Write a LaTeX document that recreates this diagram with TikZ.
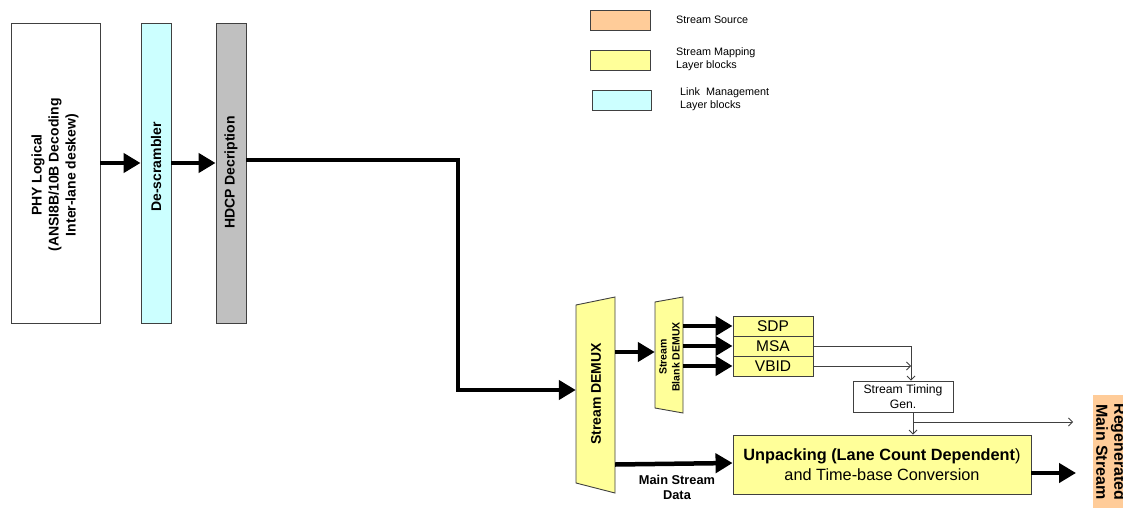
\documentclass[tikz,border=0pt]{standalone}
\usepackage{fontspec}
\setmainfont{Liberation Sans}
\usetikzlibrary{arrows.meta}
\definecolor{srcor}{HTML}{FFCC99}
\definecolor{mapye}{HTML}{FFFF99}
\definecolor{lmcy}{HTML}{CCFFFF}
\definecolor{hdgr}{HTML}{C0C0C0}
\definecolor{bord}{HTML}{404040}
\begin{document}
\begin{tikzpicture}[x=1pt,y=-1pt,
  blk/.style={draw=bord, line width=0.9pt, inner sep=0pt},
  bigarrow/.style={line width=4.5pt, -{Triangle[length=17pt,width=19pt]}},
  thinarrow/.style={draw=bord, line width=0.8pt, -{Straight Barb[length=4pt,width=8pt]}},
  thinline/.style={draw=bord, line width=0.8pt},
  vtxt/.style={rotate=90, align=center, inner sep=0pt},
  legtxt/.style={anchor=west, align=left, inner sep=0pt, font=\fontsize{10.8}{13}\selectfont},
]
\useasboundingbox (0,0) rectangle (1123,508);

% legend
\node[blk, fill=srcor, minimum width=60, minimum height=20] (lg1) at (620,20) {};
\node[legtxt] (lt1) at (676,20) {Stream Source};
\node[blk, fill=mapye, minimum width=60, minimum height=20] (lg2) at (620,60) {};
\node[legtxt] (lt2) at (676,59.5) {Stream Mapping\\Layer blocks};
\node[blk, fill=lmcy, minimum width=59, minimum height=20] (lg3) at (621.5,100) {};
\node[legtxt] (lt3) at (680,99) {Link\ \ Management\\Layer blocks};

% left column blocks
\node[blk, fill=white, minimum width=89, minimum height=300] (phy) at (55.5,173) {};
\node[vtxt, font=\bfseries\fontsize{14}{17}\selectfont] (phyt) at (55,175) {PHY Logical\\(ANSI8B/10B Decoding\\Inter-lane deskew)};
\node[blk, fill=lmcy, minimum width=30, minimum height=300] (desc) at (156,173) {};
\node[vtxt, font=\bfseries\fontsize{14}{17}\selectfont] (desct) at (156,167) {De-scrambler};
\node[blk, fill=hdgr, minimum width=30, minimum height=300] (hdcp) at (231,173) {};
\node[vtxt, font=\bfseries\fontsize{14}{17}\selectfont] (hdcpt) at (231,172.5) {HDCP Decription};

\draw[bigarrow] ([yshift=10pt]phy.east) -- ([yshift=10pt]desc.west);
\draw[bigarrow] ([yshift=10pt]desc.east) -- ([yshift=10pt]hdcp.west);

% stream demux
\filldraw[fill=mapye, draw=bord, line width=0.9pt] (576,305) -- (615,297) -- (615,493) -- (576,483) -- cycle;
\node[minimum width=39, minimum height=178, inner sep=0pt] (sdemux) at (595.5,394) {};
\node[vtxt, font=\bfseries\fontsize{14}{17}\selectfont] (sdemuxt) at (596,394) {Stream DEMUX};

\draw[line width=4.5pt, -{Triangle[length=17pt,width=19pt]}] ([yshift=13pt]hdcp.east) -| (458,390) -- ([yshift=4pt]sdemux.west);

% blank demux
\filldraw[fill=mapye, draw=bord, line width=0.9pt] (655,302) -- (683,297) -- (683,413) -- (655,408) -- cycle;
\node[minimum width=28, minimum height=106, inner sep=0pt] (bdemux) at (669,355) {};
\node[vtxt, font=\bfseries\fontsize{10.5}{13}\selectfont] (bdemuxt) at (669.5,357) {Stream\\Blank DEMUX};

\draw[bigarrow] ([yshift=42pt]sdemux.east) -- ([yshift=3pt]bdemux.west);

% SDP MSA VBID
\node[blk, fill=mapye, minimum width=80, minimum height=20, font=\fontsize{15.5}{18}\selectfont] (sdp) at (773,326) {SDP};
\node[blk, fill=mapye, minimum width=80, minimum height=20, font=\fontsize{15.5}{18}\selectfont] (msa) at (773,346) {MSA};
\node[blk, fill=mapye, minimum width=80, minimum height=20, font=\fontsize{15.5}{18}\selectfont] (vbid) at (773,366) {VBID};

\draw[bigarrow] (683,326) -- (sdp.west);
\draw[bigarrow] (683,346) -- (msa.west);
\draw[bigarrow] (683,366) -- (vbid.west);

% stream timing gen
\node[blk, fill=white, minimum width=100, minimum height=31, align=center, font=\fontsize{12.2}{15}\selectfont] (stg) at (903,396.5) {Stream Timing\\Gen.};
\draw[thinarrow] (msa.east) -| ([xshift=8pt]stg.north);
\draw[thinarrow] (vbid.east) -- (911,366);

% unpacking
\node[blk, fill=mapye, minimum width=298, minimum height=59, align=center, font=\fontsize{16.3}{20}\selectfont] (unpack) at (882,464.5) {\textbf{Unpacking (Lane Count Dependent})\\and Time-base Conversion};
\draw[thinarrow] ([xshift=10pt]stg.south) -- ([xshift=31pt]unpack.north);
\coordinate (tgout) at (1073,422);
\draw[thinarrow] (913,422) -- (tgout);

\draw[bigarrow] ([yshift=-1.5pt]sdemux.east |- 0,463) -- ([yshift=1.5pt]unpack.west);
\node[align=center, font=\bfseries\fontsize{12.8}{15}\selectfont, inner sep=0pt] (msd) at (677,487) {Main Stream\\Data};

% regenerated main stream
\fill[srcor] (1093,395) rectangle (1130,510);
\node[rotate=-90, align=center, inner sep=0pt, font=\bfseries\fontsize{16}{18}\selectfont] (regen) at (1111,452) {Regenerated\\Main Stream};
\coordinate (rgin) at (1076,473);
\draw[bigarrow] ([yshift=-8.5pt]unpack.east) -- (rgin);
\end{tikzpicture}
\end{document}
